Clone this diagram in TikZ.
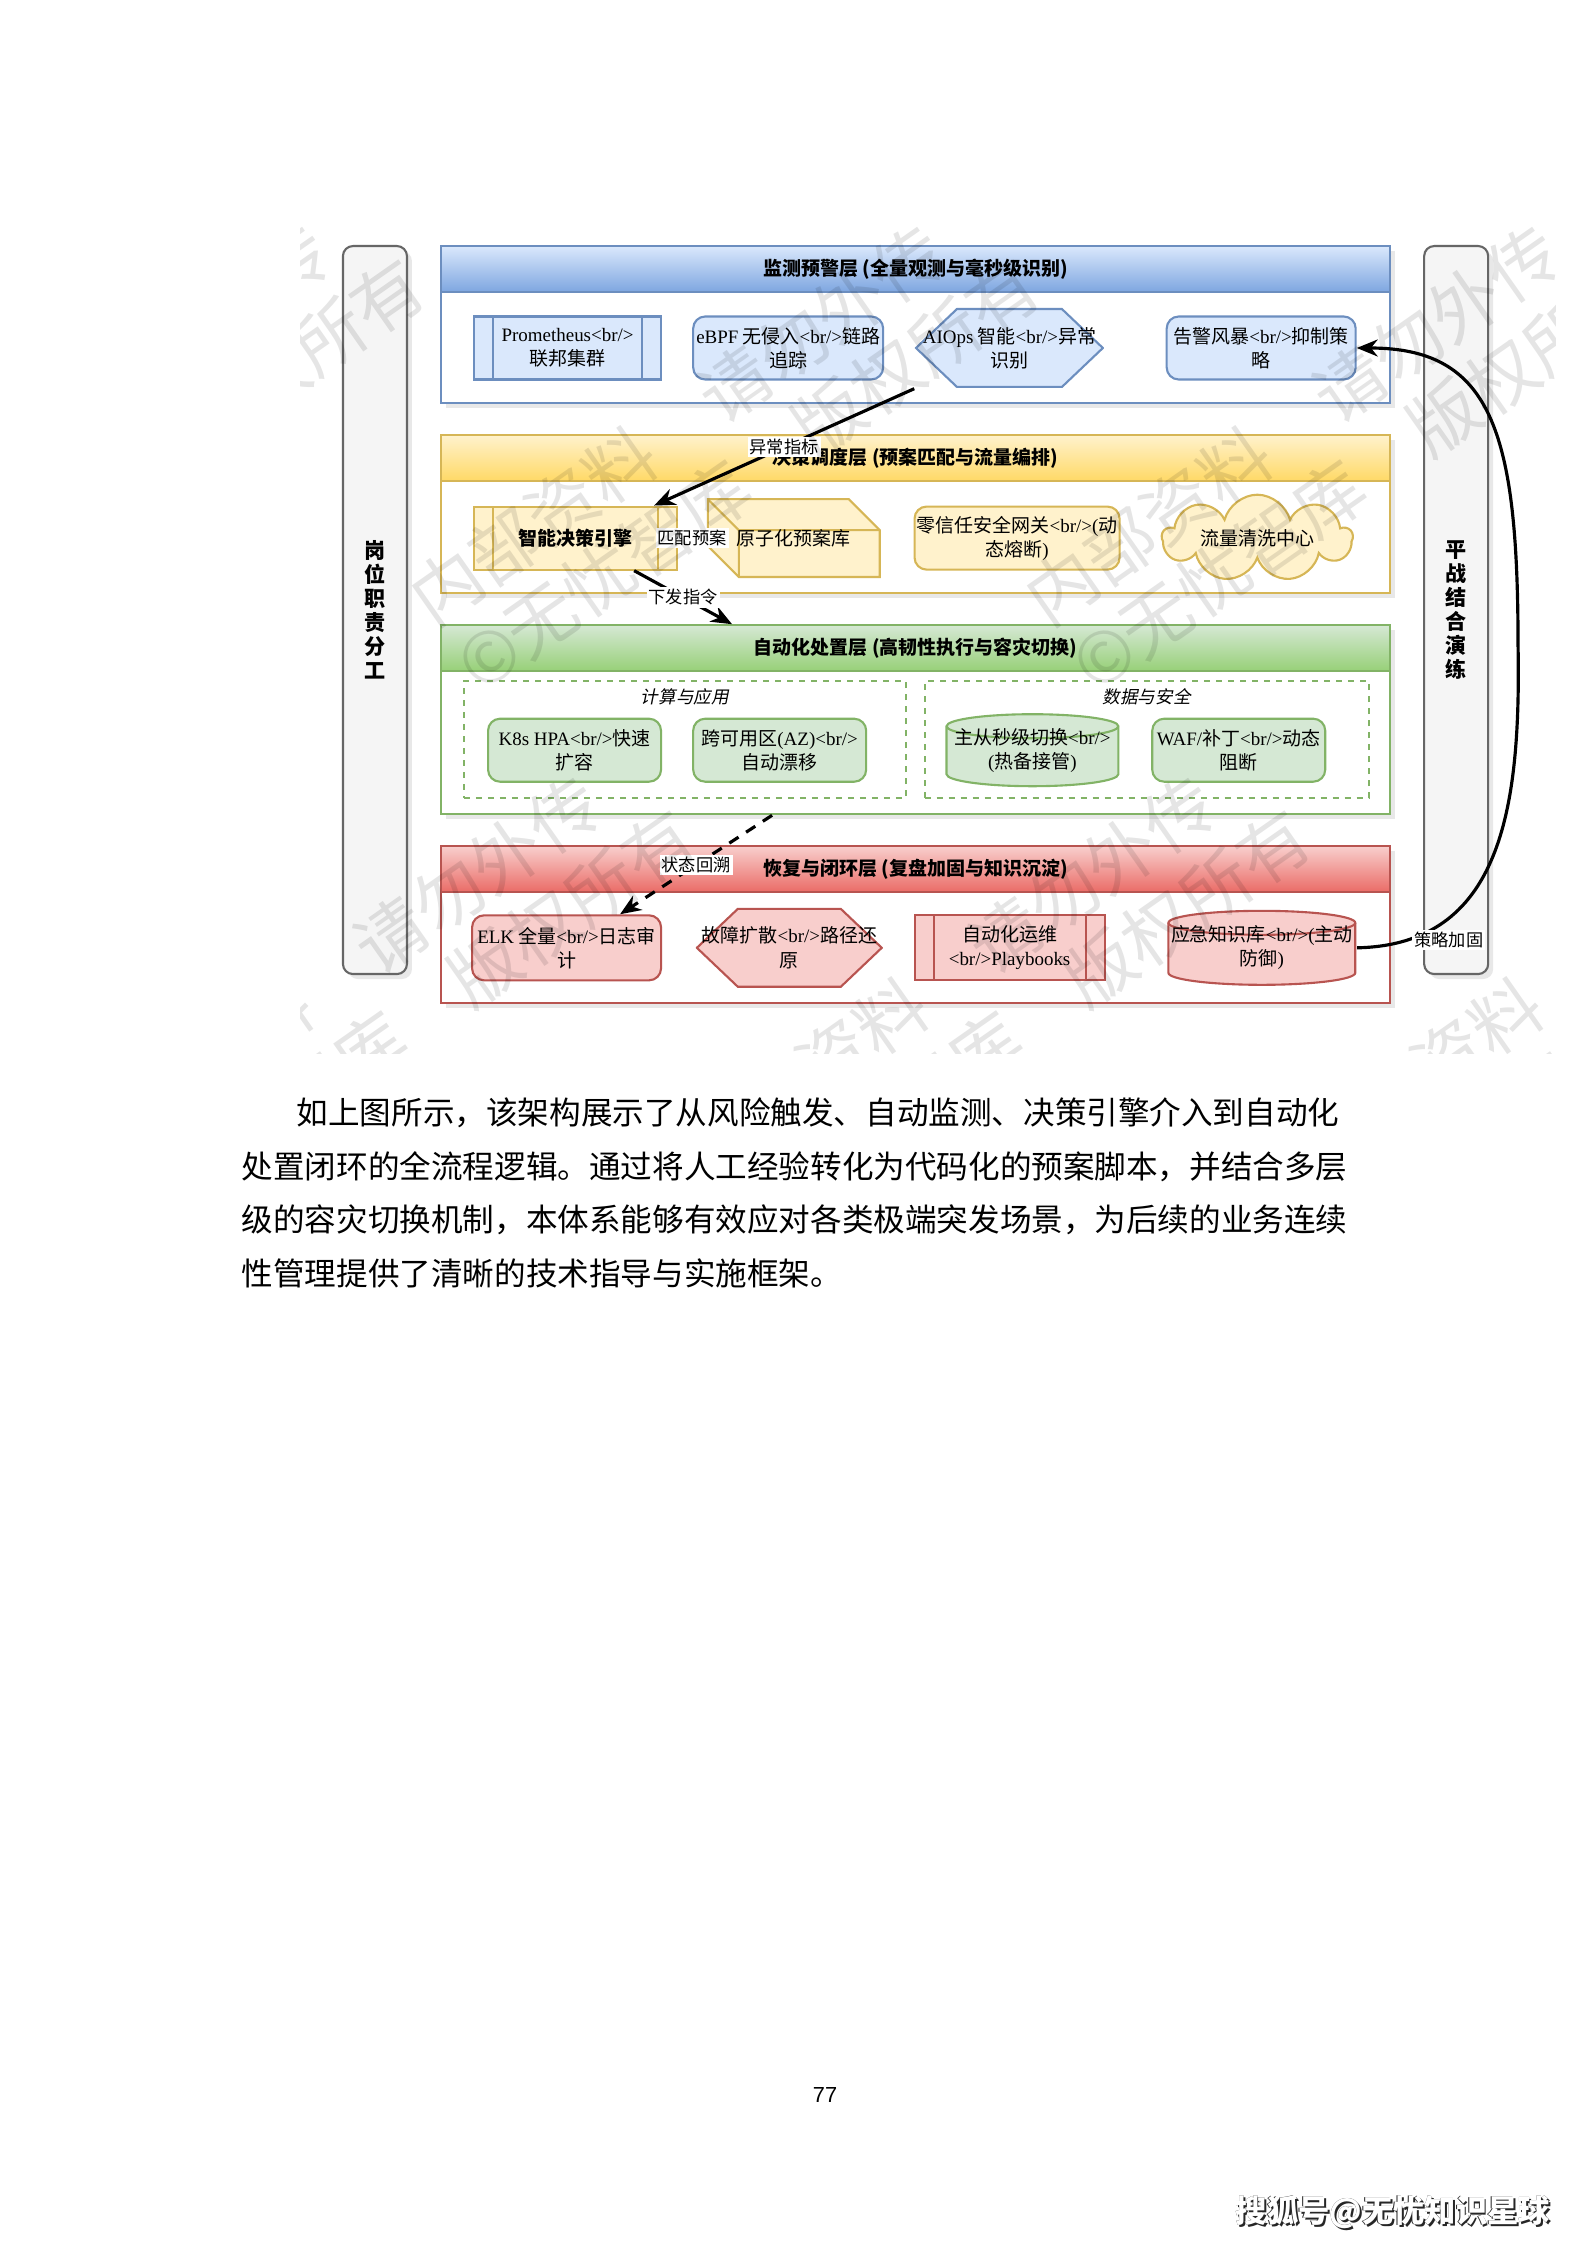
\documentclass[tikz,border=0pt]{standalone}
\usepackage{fontspec}
\setmainfont{Noto Sans CJK SC}
\newfontfamily\lat{Liberation Serif}
\newfontfamily\latsans{Liberation Sans}
\newfontfamily\cjkit[FakeSlant=0.2]{Noto Sans CJK SC}
\usepackage{xcolor}
\usepackage{tikz}
\usetikzlibrary{shapes.geometric, shapes.symbols, arrows, arrows.meta, positioning, calc, shadows}

\definecolor{blueFill}{HTML}{DAE8FC}
\definecolor{blueLine}{HTML}{6C8EBF}
\definecolor{blueDeep}{HTML}{7EA6E0}
\definecolor{yellowFill}{HTML}{FFF2CC}
\definecolor{yellowLine}{HTML}{D6B656}
\definecolor{yellowDeep}{HTML}{FFD966}
\definecolor{greenFill}{HTML}{D5E8D4}
\definecolor{greenLine}{HTML}{82B366}
\definecolor{greenDeep}{HTML}{97D077}
\definecolor{redFill}{HTML}{F8CECC}
\definecolor{redLine}{HTML}{B85450}
\definecolor{redDeep}{HTML}{EA6B66}
\definecolor{barFill}{HTML}{F5F5F5}
\definecolor{barLine}{HTML}{666666}

\newcommand\boxfont{\fontsize{5.4}{6.9}\selectfont}
\newcommand\shadowtext[1]{\makebox[0pt][l]{\hspace{0.5pt}\raisebox{-0.5pt}{\color{black!85}#1}}\makebox[0pt][l]{\hspace{-0.2pt}\raisebox{0.2pt}{\color{black!85}#1}}{\color{white}#1}}
\newcommand\wmblock{内部资料　请勿外传\\©无忧智库　版权所有}

\tikzset{
  layer/.style={
    rectangle,
    draw=#1Line,
    fill=white,
    line width=0.6pt,
    minimum width=94.9mm,
    inner sep=0pt,
    drop shadow={opacity=0.18, shadow xshift=0.5mm, shadow yshift=-0.5mm}
  },
  header/.style={
    rectangle,
    draw=#1Line,
    top color=#1Fill,
    bottom color=#1Deep,
    line width=0.6pt,
    minimum width=94.9mm,
    minimum height=4.6mm,
    inner sep=0pt,
    font=\fontsize{5.4}{6.5}\selectfont\bfseries
  },
  roundbox/.style={
    rectangle,
    rounded corners=1.2mm,
    draw=#1Line,
    fill=#1Fill,
    line width=0.6pt,
    minimum height=6.3mm,
    inner sep=0.5pt,
    align=center,
    font=\boxfont
  },
  procbox/.style={
    rectangle,
    draw=#1Line,
    fill=#1Fill,
    line width=0.6pt,
    minimum height=6.3mm,
    inner sep=0.5pt,
    align=center,
    font=\boxfont,
    path picture={
      \draw[#1Line, line width=0.6pt]
        ([xshift=1.9mm]path picture bounding box.north west) -- ([xshift=1.9mm]path picture bounding box.south west)
        ([xshift=-1.9mm]path picture bounding box.north east) -- ([xshift=-1.9mm]path picture bounding box.south east);
    }
  },
  hexbox/.style={
    rectangle,
    fill=white,
    minimum height=8mm,
    inner sep=0.5pt,
    align=center,
    font=\boxfont,
    path picture={
      \filldraw[fill=#1Fill, draw=#1Line, line width=0.6pt]
        ([xshift=0.3pt]path picture bounding box.west)
        -- ([shift={(4.2mm,-0.3pt)}]path picture bounding box.north west)
        -- ([shift={(-4.2mm,-0.3pt)}]path picture bounding box.north east)
        -- ([xshift=-0.3pt]path picture bounding box.east)
        -- ([shift={(-4.2mm,0.3pt)}]path picture bounding box.south east)
        -- ([shift={(4.2mm,0.3pt)}]path picture bounding box.south west) -- cycle;
    }
  },
  cylbox/.style={
    rectangle,
    fill=white,
    minimum height=8mm,
    inner sep=0.5pt,
    align=center,
    font=\boxfont,
    path picture={
      \filldraw[fill=#1Fill, draw=#1Line, line width=0.6pt]
        let \p1=(path picture bounding box.north west), \p2=(path picture bounding box.south east), \n1={(\x2-\x1)/2-0.3pt} in
        (\x1+0.3pt, \y1-1.5mm) -- (\x1+0.3pt, \y2+1.5mm)
        arc[start angle=180, end angle=360, x radius=\n1, y radius=1.2mm]
        -- (\x2-0.3pt, \y1-1.5mm)
        arc[start angle=0, end angle=180, x radius=\n1, y radius=1.2mm] -- cycle;
      \draw[#1Line, line width=0.6pt]
        let \p1=(path picture bounding box.north west), \p2=(path picture bounding box.south east), \n1={(\x2-\x1)/2-0.3pt} in
        (\x1+0.3pt, \y1-1.5mm) arc[start angle=180, end angle=360, x radius=\n1, y radius=1.2mm];
    }
  },
  cloudbox/.style={
    cloud,
    cloud puffs=9,
    aspect=3.4,
    draw=#1Line,
    fill=#1Fill,
    line width=0.6pt,
    inner sep=0pt,
    font=\boxfont
  },
  cubebox/.style={
    rectangle,
    fill=white,
    minimum width=17.4mm,
    minimum height=8mm,
    inner sep=0pt,
    font=\boxfont,
    path picture={
      \filldraw[fill=#1Fill, draw=#1Line, line width=0.6pt]
        ([shift={(0.3pt,-0.3pt)}]path picture bounding box.north west)
        -- ([shift={(-3.2mm,-0.3pt)}]path picture bounding box.north east)
        -- ([shift={(-0.3pt,-3.2mm)}]path picture bounding box.north east)
        -- ([shift={(-0.3pt,0.3pt)}]path picture bounding box.south east)
        -- ([shift={(3.2mm,0.3pt)}]path picture bounding box.south west)
        -- ([shift={(0.3pt,3.2mm)}]path picture bounding box.south west) -- cycle;
      \draw[#1Line, line width=0.6pt]
        ([shift={(0.3pt,-0.3pt)}]path picture bounding box.north west)
        -- ([shift={(3.2mm,-3.2mm)}]path picture bounding box.north west)
        -- ([shift={(-0.3pt,-3.2mm)}]path picture bounding box.north east)
        ([shift={(3.2mm,-3.2mm)}]path picture bounding box.north west)
        -- ([shift={(3.2mm,0.3pt)}]path picture bounding box.south west);
    }
  },
  flow/.style={
    line width=0.9pt,
    ->,
    >={Stealth[length=2.1mm, width=1.7mm]}
  },
  dashflow/.style={
    flow,
    dash pattern=on 1.1mm off 0.9mm
  },
  edgelabel/.style={
    fill=white,
    inner sep=0.6pt,
    font=\fontsize{4.9}{5.9}\selectfont
  }
}

\begin{document}
\begin{tikzpicture}[
  x=0.1mm, y=-0.1mm,
  sidebar/.style={rectangle, rounded corners=1mm, draw=barLine, fill=barFill, line width=0.6pt, minimum width=6.4mm, minimum height=72.8mm, align=center, font=\fontsize{6}{6.8}\selectfont\bfseries, drop shadow={opacity=0.18, shadow xshift=0.5mm, shadow yshift=-0.5mm}},
  groupbox/.style={rectangle, draw=greenLine, dash pattern=on 0.6mm off 0.6mm, line width=0.5pt, minimum height=11.7mm, inner sep=0pt},
  grouplabel/.style={font=\fontsize{5}{6}\selectfont\cjkit, inner sep=0.8pt},
  para/.style={align=left, inner sep=0pt, font=\fontsize{8.99}{15.2}\selectfont},
  wmtext/.style={rotate=35, anchor=west, align=left, inner sep=0pt, text=black, text opacity=0.1, font=\fontsize{20}{23}\selectfont}
]

  \useasboundingbox (0,0) rectangle (1587,2245);
  \fill[white] (0,0) rectangle (1587,2245);

  % MONITORING LAYER
  \node (L_monitor) [layer=blue, minimum height=15.7mm, anchor=north west] at (440,245) {};
  \node (H_monitor) [header=blue, anchor=north] at (L_monitor.north) {监测预警层 (全量观测与毫秒级识别)};

  \node (N_prom)  [procbox=blue, minimum width=18.7mm, anchor=west] at ([xshift=3.3mm, yshift=-10.3mm]L_monitor.north west) {{\lat Prometheus<br/>}\\联邦集群};
  \node (N_ebpf)  [roundbox=blue, minimum width=19mm, right=3.0mm of N_prom] {{\lat eBPF} 无侵入{\lat <br/>}链路\\追踪};
  \node (N_aiops) [hexbox=blue, minimum width=18.9mm, right=3.0mm of N_ebpf] {{\lat AIOps} 智能{\lat <br/>}异常\\识别};
  \node (N_storm) [roundbox=blue, minimum width=18.9mm, right=6.1mm of N_aiops] {告警风暴{\lat <br/>}抑制策\\略};

  % DECISION LAYER
  \node (L_decide) [layer=yellow, minimum height=15.8mm, below=3.0mm of L_monitor] {};
  \node (H_decide) [header=yellow, anchor=north] at (L_decide.north) {决策调度层 (预案匹配与流量编排)};

  \node (N_engine) [procbox=yellow, minimum width=20.3mm, anchor=west, font=\boxfont\bfseries] at ([xshift=3.3mm, yshift=-10.4mm]L_decide.north west) {智能决策引擎};
  \node (N_lib)    [cubebox=yellow, right=2.8mm of N_engine] {原子化预案库};
  \node (N_gate)   [roundbox=yellow, minimum width=20.5mm, right=3.2mm of N_lib] {零信任安全网关{\lat <br/>(}动\\态熔断{\lat )}};
  \node (N_clean)  [cloudbox=yellow, minimum width=19mm, minimum height=5mm, right=4.0mm of N_gate] {流量清洗中心};

  % EXECUTION LAYER
  \node (L_act) [layer=green, minimum height=18.9mm, below=3.0mm of L_decide] {};
  \node (H_act) [header=green, anchor=north] at (L_act.north) {自动化处置层 (高韧性执行与容灾切换)};

  \node (G_compute) [groupbox, minimum width=44.2mm, anchor=north west] at ([xshift=2.3mm, yshift=-5.6mm]L_act.north west) {};
  \node (T_compute) [grouplabel, anchor=north] at ([yshift=-0.45mm]G_compute.north) {计算与应用};
  \node (G_data) [groupbox, minimum width=44.4mm, right=1.7mm of G_compute] {};
  \node (T_data) [grouplabel, anchor=north] at ([yshift=-0.45mm]G_data.north) {数据与安全};

  \node (N_k8s)      [roundbox=green, minimum width=17.3mm, anchor=west] at ([xshift=2.4mm, yshift=-7mm]G_compute.north west) {{\lat K8s HPA<br/>}快速\\扩容};
  \node (N_az)       [roundbox=green, minimum width=17.3mm, right=3.0mm of N_k8s] {跨可用区{\lat (AZ)<br/>}\\自动漂移};
  \node (N_failover) [cylbox=green, minimum width=17.4mm, minimum height=7.8mm, anchor=west] at ([xshift=2.1mm, yshift=-7mm]G_data.north west) {主从秒级切换{\lat <br/>}\\{\lat (}热备接管{\lat )}};
  \node (N_waf)      [roundbox=green, minimum width=17.3mm, right=3.1mm of N_failover] {{\lat WAF/}补丁{\lat <br/>}动态\\阻断};

  % RECOVERY LAYER
  \node (L_recover) [layer=red, minimum height=15.7mm, below=3.0mm of L_act] {};
  \node (H_recover) [header=red, anchor=north] at (L_recover.north) {恢复与闭环层 (复盘加固与知识沉淀)};

  \node (N_elk)   [roundbox=red, minimum width=18.9mm, minimum height=6.5mm, anchor=west] at ([xshift=3.1mm, yshift=-10.25mm]L_recover.north west) {{\lat ELK} 全量{\lat <br/>}日志审\\计};
  \node (N_trace) [hexbox=red, minimum width=18.7mm, right=3.3mm of N_elk] {故障扩散{\lat <br/>}路径还\\原};
  \node (N_ops)   [procbox=red, minimum width=19mm, minimum height=6.5mm, right=3.0mm of N_trace] {自动化运维\\{\lat <br/>Playbooks}};
  \node (N_kb)    [cylbox=red, minimum width=18.9mm, right=6.1mm of N_ops] {应急知识库{\lat <br/>(}主动\\防御{\lat )}};

  % SIDE BARS
  \node (B_duty)  [sidebar, anchor=north east] at ([xshift=-3.2mm]L_monitor.north west) {岗\\位\\职\\责\\分\\工};
  \node (B_drill) [sidebar, anchor=north west] at ([xshift=3.2mm]L_monitor.north east) {平\\战\\结\\合\\演\\练};

  % CONNECTIONS
  \draw[flow] (N_aiops.south west) -- node[edgelabel] (E_metric) {异常指标} ([xshift=-2.4mm]N_engine.north east);
  \draw[flow] (N_engine) -- node[edgelabel] (E_match) {匹配预案} (N_lib);
  \draw[flow] ([xshift=-4.4mm]N_engine.south east) -- node[edgelabel] (E_dispatch) {下发指令} ([xshift=-18.35mm]L_act.north);
  \draw[dashflow] ([xshift=-14.35mm]L_act.south) -- node[edgelabel] (E_trace) {状态回溯} ([xshift=5.35mm]N_elk.north);
  \draw[flow] (N_kb.east) .. controls +(14.4mm,0.3mm) and +(0.3mm,-16.5mm) .. ([xshift=16.1mm, yshift=30.3mm]N_kb.east)
    node[edgelabel, pos=0.3, yshift=-2.8mm, xshift=-0.7mm] (E_harden) {策略加固}
    .. controls +(0,21.5mm) and +(13.4mm,0) .. (N_storm.east);

  % PAGE TEXT
  \node (T_para) [para, anchor=base west] at (241,1285) {\hspace*{5.5mm}如上图所示，该架构展示了从风险触发、自动监测、决策引擎介入到自动化\\处置闭环的全流程逻辑。通过将人工经验转化为代码化的预案脚本，并结合多层\\级的容灾切换机制，本体系能够有效应对各类极端突发场景，为后续的业务连续\\性管理提供了清晰的技术指导与实施框架。};
  \node (T_page) [font=\fontsize{6.2}{7}\selectfont\latsans] at (825,2095) {77};
  \node (T_sohu) [font=\fontsize{8.9}{9}\selectfont\bfseries] at (1393,2213) {\shadowtext{搜狐号@无忧知识星球}};

  % WATERMARK
  \begin{scope}
    \clip (300,200) rectangle (1555,1053);
    \node (W_1) [wmtext] at (-174,640) {\wmblock};
    \node (W_2) [wmtext] at (441,640) {\wmblock};
    \node (W_3) [wmtext] at (1056,640) {\wmblock};
    \node (W_4) [wmtext] at (97,1191) {\wmblock};
    \node (W_5) [wmtext] at (712,1191) {\wmblock};
    \node (W_6) [wmtext] at (1327,1191) {\wmblock};
  \end{scope}

\end{tikzpicture}
\end{document}
